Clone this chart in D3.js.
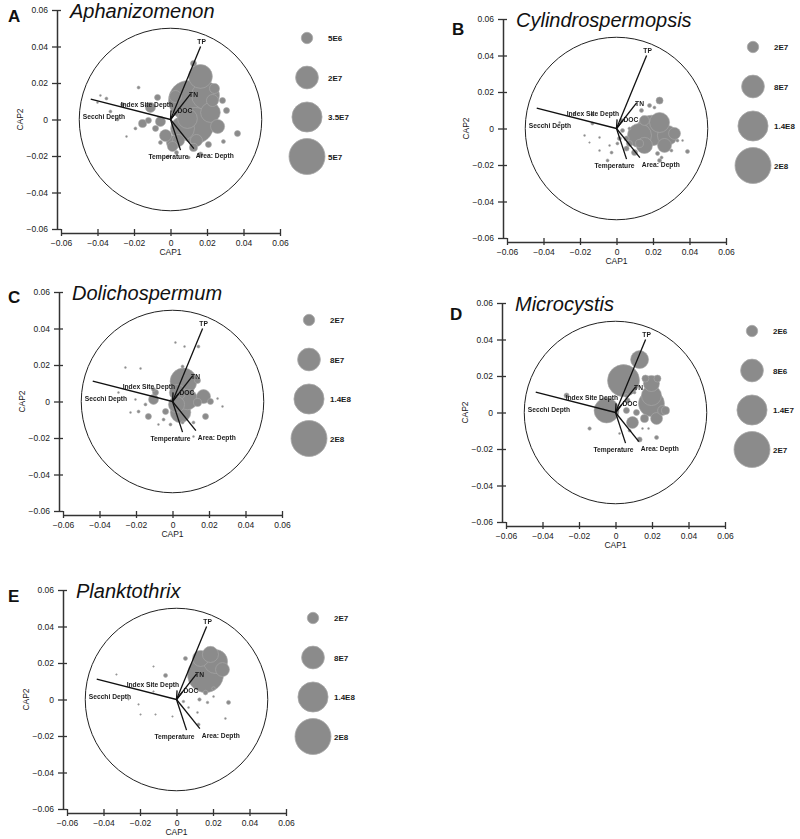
<!DOCTYPE html>
<html>
<head>
<meta charset="utf-8">
<script src="https://cdn.jsdelivr.net/npm/d3@7"></script>
<style>
  body { margin: 0; background: #fff; }
  svg { display: block; font-family: "Liberation Sans", Arial, sans-serif; }
  .flat { will-change: transform; }
</style>
</head>
<body>
<svg id="chart" width="800" height="839"></svg>
<script>
// ---- data: [CAP1, CAP2, abundance] ----
const aphanizomenon = [
  [0.0099, 0.0104, 6.2e7], [0.0137, -0.0033, 5.0e7], [0.0192, 0.0132, 3.0e7], [0.0164, 0.0236, 2.2e7],
  [0.0066, -0.0049, 2.2e7], [0.0093, 0.0005, 1.5e7], [0.0219, 0.0038, 1.5e7], [0.0258, -0.0038, 7.6e6],
  [0.0016, -0.0126, 7.6e6], [0.0230, 0.0104, 5.6e6], [0.0027, 0.0126, 5.6e6], [0.0142, -0.0115, 5.6e6],
  [0.0044, -0.0115, 5.6e6], [-0.0027, -0.0088, 5.6e6], [0.0241, 0.0170, 3.9e6], [0.0011, -0.0148, 3.9e6],
  [-0.0055, -0.0011, 3.9e6], [-0.0110, 0.0066, 3.9e6], [0.0126, -0.0153, 2.5e6], [-0.0153, -0.0022, 2.5e6],
  [0.0126, 0.0307, 1.4e6], [-0.0121, -0.0005, 1.4e6], [-0.0082, -0.0049, 1.4e6], [-0.0071, 0.0121, 1.4e6],
  [0.0367, -0.0077, 1.4e6], [0.0208, -0.0137, 1.4e6], [0.0307, 0.0049, 1.4e6], [0.0285, 0.0104, 1.4e6],
  [0.0164, -0.0192, 1.0e6], [-0.0263, 0.0082, 6e5], [-0.0055, -0.0126, 6e5], [0.0290, -0.0121, 6e5],
  [0.0033, -0.0181, 6e5], [-0.0175, 0.0175, 3.5e5], [-0.0351, 0.0115, 3.5e5], [-0.0329, 0.0044, 3.5e5],
  [-0.0192, -0.0049, 3.5e5], [0.0099, -0.0208, 3.5e5], [-0.0011, -0.0203, 3.5e5], [-0.0290, 0.0000, 3.5e5],
  [-0.0241, -0.0093, 1.5e5], [-0.0384, 0.0132, 1.5e5], [-0.0400, 0.0093, 1.5e5]
];
const cylindrospermopsis = [
  [0.0192, -0.0011, 1.45e8], [0.0126, -0.0038, 8.9e7], [0.0279, -0.0038, 6.2e7], [0.0236, 0.0033, 6.2e7],
  [0.0153, -0.0093, 4.0e7], [0.0263, -0.0093, 3.0e7], [0.0318, -0.0027, 2.2e7], [0.0153, 0.0044, 1.5e7],
  [0.0126, -0.0082, 9.9e6], [0.0236, 0.0153, 7.6e6], [0.0071, -0.0082, 5.6e6], [0.0099, -0.0132, 5.6e6],
  [0.0055, -0.0110, 3.9e6], [0.0055, -0.0055, 3.9e6], [0.0181, 0.0126, 2.5e6], [0.0137, 0.0099, 2.5e6],
  [0.0225, -0.0137, 2.5e6], [0.0389, -0.0126, 2.5e6], [0.0027, 0.0044, 2.5e6], [0.0033, -0.0011, 2.5e6],
  [0.0016, -0.0055, 2.5e6], [0.0236, -0.0175, 2.5e6], [0.0208, 0.0115, 1.4e6], [0.0247, -0.0159, 1.4e6],
  [0.0301, -0.0121, 1.4e6], [0.0334, -0.0066, 1.4e6], [0.0071, 0.0000, 1.4e6], [0.0005, -0.0082, 1.4e6],
  [-0.0132, 0.0077, 1.4e6], [-0.0132, 0.0027, 1.4e6], [-0.0049, -0.0175, 1.4e6], [-0.0027, -0.0132, 1.4e6],
  [-0.0230, 0.0082, 6e5], [-0.0312, 0.0033, 6e5], [-0.0175, -0.0038, 6e5], [-0.0093, -0.0049, 6e5],
  [-0.0093, -0.0121, 6e5], [0.0362, -0.0066, 6e5], [-0.0038, -0.0093, 6e5], [-0.0148, -0.0077, 4e5]
];
const dolichospermum = [
  [0.0060, 0.0110, 1.1e8], [0.0044, -0.0060, 6.5e7], [0.0082, 0.0011, 6.5e7], [0.0027, 0.0049, 4.0e7],
  [0.0022, -0.0016, 4.0e7], [0.0170, 0.0027, 3.0e7], [-0.0104, 0.0011, 1.5e7], [0.0137, -0.0005, 9.9e6],
  [0.0137, 0.0115, 5.6e6], [0.0208, 0.0000, 5.6e6], [0.0181, -0.0082, 5.6e6], [-0.0093, 0.0049, 5.6e6],
  [-0.0132, -0.0082, 5.6e6], [-0.0038, -0.0055, 5.6e6], [-0.0104, 0.0066, 2.5e6], [-0.0186, -0.0055, 1.4e6],
  [-0.0148, -0.0016, 1.4e6], [-0.0049, -0.0099, 1.4e6], [0.0055, -0.0115, 1.4e6], [0.0115, -0.0115, 1.4e6],
  [0.0055, 0.0192, 1.4e6], [0.0142, 0.0301, 1.4e6], [-0.0011, -0.0126, 1.4e6], [-0.0230, -0.0060, 6e5],
  [0.0115, -0.0192, 6e5], [0.0274, -0.0027, 6e5], [0.0247, 0.0016, 6e5], [0.0016, 0.0323, 6e5],
  [0.0066, 0.0301, 6e5], [-0.0258, 0.0186, 6e5], [-0.0175, 0.0181, 6e5], [-0.0296, 0.0049, 6e5],
  [-0.0203, 0.0011, 6e5], [-0.0077, -0.0126, 6e5]
];
const microcystis = [
  [0.0044, 0.0175, 1.58e7], [0.0197, 0.0049, 1.04e7], [-0.0049, 0.0011, 9.6e6], [0.0197, 0.0093, 6.2e6],
  [0.0132, 0.0290, 5.0e6], [0.0197, 0.0159, 4.0e6], [0.0225, -0.0033, 2.2e6], [0.0093, -0.0055, 2.2e6],
  [0.0258, 0.0011, 1.5e6], [0.0164, 0.0186, 7.6e5], [0.0230, 0.0186, 7.6e5], [0.0159, -0.0033, 9.9e5],
  [0.0274, 0.0011, 9.9e5], [0.0060, 0.0011, 5.6e5], [0.0115, 0.0000, 5.6e5], [0.0066, 0.0066, 3.9e5],
  [-0.0268, 0.0093, 3.9e5], [0.0132, -0.0148, 3.9e5], [0.0225, -0.0137, 2.5e5], [0.0060, 0.0093, 2.5e5],
  [-0.0142, -0.0088, 1.8e5], [0.0077, -0.0099, 1.4e5], [0.0104, 0.0110, 1.4e5], [0.0022, -0.0115, 6e4],
  [0.0181, -0.0088, 6e4], [0.0148, -0.0088, 6e4]
];
const planktothrix = [
  [0.0159, 0.0137, 2.0e8], [0.0214, 0.0208, 8.9e7], [0.0132, 0.0225, 4.0e7], [0.0186, 0.0247, 4.0e7],
  [0.0252, 0.0164, 3.0e7], [0.0159, 0.0038, 3.3e6], [0.0049, 0.0225, 2.5e6], [-0.0060, 0.0132, 2.5e6],
  [0.0285, -0.0016, 2.5e6], [0.0203, 0.0060, 2.0e6], [0.0126, 0.0000, 1.8e6], [0.0121, -0.0137, 1.4e6],
  [0.0170, -0.0016, 1.0e6], [0.0038, -0.0011, 1.0e6], [0.0115, -0.0071, 6e5], [0.0268, -0.0104, 6e5],
  [0.0066, -0.0044, 6e5], [0.0203, 0.0016, 6e5], [-0.0126, 0.0044, 4e5], [-0.0208, -0.0027, 4e5],
  [-0.0115, -0.0082, 4e5], [-0.0022, -0.0093, 4e5], [-0.0329, 0.0137, 4e5], [-0.0126, 0.0181, 4e5],
  [-0.0197, -0.0082, 4e5], [-0.0263, 0.0000, 3e5]
];

// environmental vectors (same in every panel)
const vectorNames = ["TP", "TN", "DOC", "Index Site Depth", "Secchi Depth", "Temperature", "Area: Depth"];
const vectorCap1 = [0.0165, 0.0110, 0.0033, 0.0003, -0.0437, 0.0055, 0.0128];
const vectorCap2 = [0.0400, 0.0140, 0.0042, 0.0050, 0.0112, -0.0168, -0.0160];

// legends
const legendBig = [2e7, 8e7, 1.4e8, 2e8];
const legendBigLabels = ["2E7", "8E7", "1.4E8", "2E8"];
const legendAph = [5e6, 2e7, 3.5e7, 5e7];
const legendAphLabels = ["5E6", "2E7", "3.5E7", "5E7"];
const legendMic = [2e6, 8e6, 1.4e7, 2e7];
const legendMicLabels = ["2E6", "8E6", "1.4E7", "2E7"];

const ticks = [-0.06, -0.04, -0.02, 0, 0.02, 0.04, 0.06];
const circleRadius = 0.05;

// ---- layout ----
const panels = [
  { letter: "A", title: "Aphanizomenon", data: aphanizomenon, legend: legendAph, legendLabels: legendAphLabels,
    ax: 57, top: 10, lx: 8, ly: 22 },
  { letter: "B", title: "Cylindrospermopsis", data: cylindrospermopsis, legend: legendBig, legendLabels: legendBigLabels,
    ax: 503, top: 19, lx: 452, ly: 35 },
  { letter: "C", title: "Dolichospermum", data: dolichospermum, legend: legendBig, legendLabels: legendBigLabels,
    ax: 59, top: 292, lx: 8, ly: 303 },
  { letter: "D", title: "Microcystis", data: microcystis, legend: legendMic, legendLabels: legendMicLabels,
    ax: 502, top: 303, lx: 450, ly: 320 },
  { letter: "E", title: "Planktothrix", data: planktothrix, legend: legendBig, legendLabels: legendBigLabels,
    ax: 63, top: 590, lx: 8, ly: 602 }
];

// label placement relative to arrow tip (px)
const labelPos = {
  "TP": { anchor: "middle", dx: 1, dy: -3 },
  "TN": { anchor: "middle", dx: 3, dy: 3 },
  "DOC": { anchor: "start", dx: 1, dy: 1 },
  "Index Site Depth": { anchor: "end", dx: 2, dy: -3 },
  "Secchi Depth": { anchor: "start", dx: -8, dy: 20 },
  "Temperature": { anchor: "middle", dx: -12, dy: 9 },
  "Area: Depth": { anchor: "start", dx: 2, dy: 9 }
};

const size = 219;
const bubbleFill = "#8b8b8b", bubbleStroke = "#a9a9a9";
const axisColor = "#333";
const fmt = d => d === 0 ? "0" : d3.format(".2f")(d);

const svg = d3.select("#chart");

panels.forEach(p => {
  const g = svg.append("g");
  const x = d3.scaleLinear().domain([-0.06, 0.06]).range([p.ax + 4, p.ax + 4 + size]);
  const y = d3.scaleLinear().domain([-0.06, 0.06]).range([p.top + size, p.top]);
  const r = d3.scaleSqrt().domain([0, d3.max(p.legend)]).range([0, 18]);

  // axes
  const yAxis = g.append("g").attr("transform", `translate(${p.ax},0)`)
    .call(d3.axisLeft(y).tickValues(ticks).tickFormat(fmt).tickSizeInner(5).tickSizeOuter(0).tickPadding(4));
  yAxis.selectAll(".tick line").attr("x1", 4);
  const xAxisY = p.top + size + 4;
  const xAxis = g.append("g").attr("transform", `translate(0,${xAxisY})`)
    .call(d3.axisBottom(x).tickValues(ticks).tickFormat(fmt).tickSizeInner(3).tickSizeOuter(0).tickPadding(4));
  xAxis.selectAll(".tick line").attr("y1", -4);
  [yAxis, xAxis].forEach(a => {
    a.select(".domain").attr("stroke", axisColor).attr("stroke-width", 1.5);
    a.selectAll(".tick line").attr("stroke", axisColor).attr("stroke-width", 1.3);
    a.selectAll(".tick text").attr("fill", "#1a1a1a").style("font-size", "8.5px");
  });

  g.append("text").attr("x", x(0)).attr("y", xAxisY + 22)
    .attr("text-anchor", "middle").style("font-size", "8.5px").attr("fill", "#1a1a1a").text("CAP1");
  g.append("text").attr("transform", `translate(${p.ax - 34},${y(0)}) rotate(-90)`)
    .attr("text-anchor", "middle").style("font-size", "8.5px").attr("fill", "#1a1a1a").text("CAP2");

  // panel letter & title
  g.append("text").attr("x", p.lx).attr("y", p.ly)
    .style("font-size", "17px").style("font-weight", "bold").attr("fill", "#111").text(p.letter);
  g.append("text").attr("x", p.ax + 13).attr("y", p.top + 8)
    .style("font-size", "20px").style("font-style", "italic").attr("fill", "#111").text(p.title);

  // correlation circle
  g.append("circle").attr("cx", x(0)).attr("cy", y(0))
    .attr("r", x(circleRadius) - x(0))
    .attr("fill", "none").attr("stroke", "#222").attr("stroke-width", 1);

  // bubbles
  g.append("g").selectAll("circle")
    .data(p.data.slice().sort((a, b) => b[2] - a[2]))
    .join("circle")
    .attr("cx", d => x(d[0])).attr("cy", d => y(d[1])).attr("r", d => r(d[2]))
    .attr("fill", bubbleFill).attr("stroke", bubbleStroke).attr("stroke-width", 0.6);

  // vectors
  const vecs = vectorNames.map((n, i) => ({ name: n, c1: vectorCap1[i], c2: vectorCap2[i] }));
  g.append("g").selectAll("line").data(vecs).join("line")
    .attr("x1", x(0)).attr("y1", y(0))
    .attr("x2", d => x(d.c1)).attr("y2", d => y(d.c2))
    .attr("stroke", "#111").attr("stroke-width", 1.3);
  g.append("g").attr("class", "flat").selectAll("text").data(vecs).join("text")
    .attr("x", d => x(d.c1) + labelPos[d.name].dx)
    .attr("y", d => y(d.c2) + labelPos[d.name].dy)
    .attr("text-anchor", d => labelPos[d.name].anchor)
    .style("font-size", "6.7px").style("font-weight", "bold").attr("fill", "#1a1a1a")
    .text(d => d.name);

  // size legend
  const lx = p.ax + 250;
  const lg = g.append("g");
  lg.selectAll("circle").data(p.legend).join("circle")
    .attr("cx", lx).attr("cy", (d, i) => p.top + 28 + i * 39.5).attr("r", d => r(d))
    .attr("fill", bubbleFill).attr("stroke", bubbleStroke).attr("stroke-width", 0.8);
  lg.selectAll("text").data(p.legendLabels).join("text")
    .attr("x", lx + 21).attr("y", (d, i) => p.top + 28 + i * 39.5 + 3)
    .style("font-size", "8px").style("font-weight", "bold").attr("fill", "#1a1a1a")
    .text(d => d);
});
</script>
</body>
</html>
